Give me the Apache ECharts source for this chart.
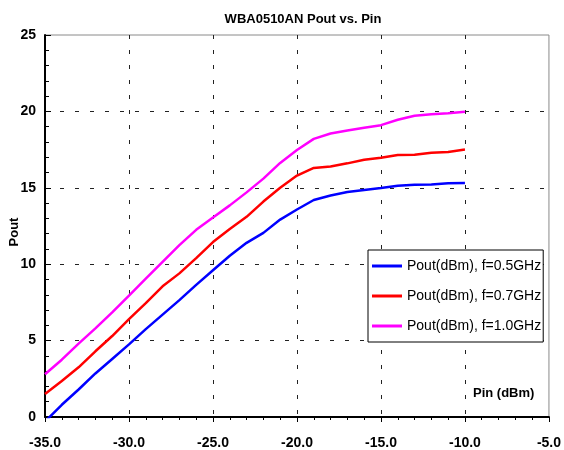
<!DOCTYPE html>
<html>
<head>
<meta charset="utf-8">
<script src="https://cdn.jsdelivr.net/npm/echarts@6/dist/echarts.min.js"></script>
<style>
  html, body { margin: 0; padding: 0; background: #fff; }
  #chart { width: 564px; height: 450px; }
</style>
</head>
<body>
<div id="chart"></div>
<script>
var pin = [-35, -34, -33, -32, -31, -30, -29, -28, -27, -26, -25, -24, -23,
  -22, -21, -20, -19, -18, -17, -16, -15, -14, -13, -12, -11, -10];
var pout05 = [-0.3, 0.8, 1.8, 2.85, 3.8, 4.75, 5.75, 6.7, 7.65, 8.65, 9.6, 10.55, 11.4,
  12.05, 12.92, 13.58, 14.2, 14.5, 14.72, 14.86, 14.98, 15.13, 15.2, 15.22, 15.3, 15.32];
var pout07 = [1.5, 2.35, 3.25, 4.3, 5.3, 6.4, 7.45, 8.55, 9.4, 10.4, 11.45, 12.3, 13.1,
  14.1, 15.0, 15.8, 16.3, 16.4, 16.6, 16.83, 16.97, 17.15, 17.17, 17.3, 17.35, 17.5];
var pout10 = [2.8, 3.75, 4.8, 5.8, 6.85, 7.95, 9.05, 10.15, 11.25, 12.25, 13.05, 13.85, 14.7,
  15.6, 16.63, 17.47, 18.2, 18.55, 18.75, 18.93, 19.1, 19.45, 19.72, 19.82, 19.88, 19.97];
var seriesNames = ['Pout(dBm), f=0.5GHz', 'Pout(dBm), f=0.7GHz', 'Pout(dBm), f=1.0GHz'];
var colors = ['#0000ff', '#ff0000', '#ff00ff'];

var font = '"Liberation Sans", Arial, sans-serif';

function pairs(ys) {
  return pin.map(function (x, i) { return [x, ys[i]]; });
}

var myChart = echarts.init(document.getElementById('chart'));

var dashed = { color: '#222', width: 1, type: [4, 11] };
var black = { color: '#000', width: 1 };

var option = {
  backgroundColor: '#fff',
  animation: false,
  title: {
    text: 'WBA0510AN Pout vs. Pin',
    left: 298,
    textAlign: 'center',
    top: 8,
    textStyle: { fontFamily: font, fontSize: 13, fontWeight: 'bold', color: '#000' }
  },
  grid: {
    left: 45, top: 35, right: 12, bottom: 32,
    show: true, borderColor: '#8a8a8a', borderWidth: 1
  },
  legend: {
    orient: 'vertical',
    left: 368, top: 250,
    padding: [9, 2, 9, 4],
    icon: 'rect',
    itemWidth: 30, itemHeight: 3, itemGap: 16, itemTextGap: 4,
    backgroundColor: '#fff',
    borderColor: '#000', borderWidth: 1,
    textStyle: { fontFamily: font, fontSize: 14, color: '#000' },
    data: seriesNames
  },
  xAxis: {
    type: 'value',
    min: -35, max: -5, interval: 5,
    axisLine: { lineStyle: { color: '#000', width: 2 } },
    // inside ticks do not show on this axis here, so draw them short and outward
    axisTick: { show: true, inside: false, length: 5, lineStyle: black },
    minorTick: { show: true, splitNumber: 5, length: 3, lineStyle: black },
    splitLine: { show: true, showMaxLine: false, lineStyle: dashed },
    axisLabel: {
      margin: 19,
      formatter: function (v) { return v.toFixed(1); },
      fontFamily: font, fontSize: 14, fontWeight: 'bold', color: '#000'
    }
  },
  yAxis: {
    type: 'value',
    min: 0, max: 25, interval: 5,
    axisLine: { show: true, lineStyle: { color: '#000', width: 2 } },
    axisTick: { show: true, inside: true, length: 6, lineStyle: black },
    minorTick: { show: true, splitNumber: 5, length: 4, lineStyle: black },
    splitLine: { show: true, showMaxLine: false, lineStyle: dashed },
    axisLabel: {
      margin: 9,
      fontFamily: font, fontSize: 14, fontWeight: 'bold', color: '#000'
    }
  },
  graphic: [
    {
      type: 'text', left: 473, top: 387,
      style: { text: 'Pin (dBm)', font: 'bold 13px ' + font, fill: '#000' }
    },
    {
      type: 'text', x: 14, y: 232, rotation: Math.PI / 2,
      style: { text: 'Pout', font: 'bold 13px ' + font, fill: '#000', align: 'center', verticalAlign: 'middle' }
    }
  ],
  series: [pout05, pout07, pout10].map(function (ys, i) {
    return {
      name: seriesNames[i],
      type: 'line',
      symbol: 'none',
      color: colors[i],
      lineStyle: { width: 2.5, color: colors[i] },
      data: pairs(ys)
    };
  })
};

myChart.setOption(option);
</script>
</body>
</html>
